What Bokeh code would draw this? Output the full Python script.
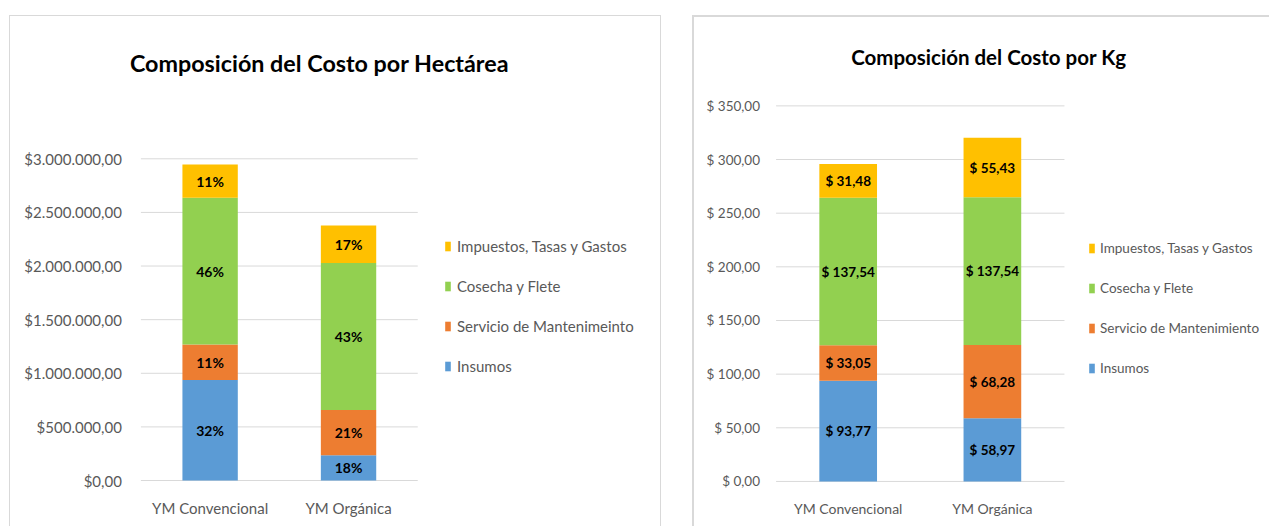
from bokeh.plotting import figure
from bokeh.models import (ColumnDataSource, LabelSet, Legend, LegendItem, Label,
                          FixedTicker, Range1d)
from bokeh.core.properties import value
from bokeh.layouts import row, column, Spacer
from bokeh.embed import file_html
from bokeh.resources import INLINE

categories = ["YM Convencional", "YM Orgánica"]
series_left = ["Insumos", "Servicio de Mantenimeinto", "Cosecha y Flete", "Impuestos, Tasas y Gastos"]
series_right = ["Insumos", "Servicio de Mantenimiento", "Cosecha y Flete", "Impuestos, Tasas y Gastos"]
colors = ["#5B9BD5", "#ED7D31", "#92D050", "#FFC000"]

# Cost per hectare ($)
ha_insumos = [937000, 236000]
ha_mantenimiento = [332000, 422000]
ha_cosecha = [1368000, 1370000]
ha_impuestos = [310000, 351000]
ha_pct_insumos = ["32%", "18%"]
ha_pct_mantenimiento = ["11%", "21%"]
ha_pct_cosecha = ["46%", "43%"]
ha_pct_impuestos = ["11%", "17%"]
ha_ticks = [0, 500000, 1000000, 1500000, 2000000, 2500000, 3000000]

# Cost per kg ($)
kg_insumos = [93.77, 58.97]
kg_mantenimiento = [33.05, 68.28]
kg_cosecha = [137.54, 137.54]
kg_impuestos = [31.48, 55.43]
kg_ticks = [0, 50, 100, 150, 200, 250, 300, 350]

FONT = "Lato"
GRID = "#d9d9d9"
TXT = "#595959"


def fmt_left(v):
    s = f"{v:,.2f}"
    return "$" + s.replace(",", "X").replace(".", ",").replace("X", ".")


def fmt_right(v):
    return "$ " + f"{v:.2f}".replace(".", ",")


def make_chart(title, values, labels, series, ticks, fmt, width, height, border_css,
               canvas_w, canvas_h, plot_left, zero_from_bottom, cat_px, axis_px,
               tick_gap, title_pos, legend_pos, title_size, tick_size, cat_size,
               leg_size, lab_size, leg_standoff):
    n = len(categories)
    xs = [i + 0.5 for i in range(n)]
    keys = ["s0", "s1", "s2", "s3"]
    data = {"x": xs}
    for k, v in zip(keys, values):
        data[k] = v
    src = ColumnDataSource(data)

    below = 12                               # frame extends this many px under the zero line
    mb_bottom = zero_from_bottom - below
    frame_h = canvas_h - mb_bottom
    unit_px = axis_px / ticks[-1]           # pixels per data unit (y)
    x_start = -plot_left / cat_px
    x_end = (canvas_w - plot_left) / cat_px
    y_start = -below / unit_px
    y_end = (frame_h - below) / unit_px

    p = figure(x_range=Range1d(x_start, x_end), y_range=Range1d(y_start, y_end),
               width=width, height=height, output_backend="svg", toolbar_location=None,
               min_border_left=0, min_border_right=0,
               min_border_top=0, min_border_bottom=mb_bottom,
               background_fill_color="white", border_fill_color="white",
               styles=border_css)
    p.outline_line_color = None
    p.xgrid.grid_line_color = None
    p.ygrid.grid_line_color = None
    p.yaxis.visible = False

    # gridlines only over the plot area
    gsrc = ColumnDataSource(dict(y=ticks, x0=[0] * len(ticks), x1=[n] * len(ticks),
                                 lx=[-tick_gap / cat_px] * len(ticks),
                                 t=[fmt(t) for t in ticks]))
    p.segment(x0="x0", x1="x1", y0="y", y1="y", source=gsrc, line_color=GRID, line_width=1)
    p.text(x="lx", y="y", text="t", source=gsrc, text_align="right", text_baseline="middle",
           text_font=value(FONT), text_font_size=value(tick_size), text_color=TXT)

    rs = p.vbar_stack(keys, x="x", width=0.4, color=colors, line_color=None, source=src)

    # data labels at segment middles
    lx, ly, lt = [], [], []
    for i in range(n):
        bottom = 0
        for j in range(4):
            v = values[j][i]
            lx.append(xs[i])
            ly.append(bottom + v / 2)
            lt.append(labels[j][i])
            bottom += v
    lsrc = ColumnDataSource(dict(x=lx, y=ly, t=lt))
    p.add_layout(LabelSet(x="x", y="y", text="t", source=lsrc, text_align="center",
                          text_baseline="middle", text_font=value(FONT),
                          text_font_style="bold", text_font_size=value(lab_size),
                          text_color="black"))

    # category axis
    p.xaxis.ticker = FixedTicker(ticks=xs)
    p.xaxis.major_label_overrides = {x: c for x, c in zip(xs, categories)}
    p.xaxis.axis_line_color = None
    p.xaxis.major_tick_line_color = None
    p.xaxis.minor_tick_line_color = None
    p.xaxis.major_label_text_font = FONT
    p.xaxis.major_label_text_font_size = cat_size
    p.xaxis.major_label_text_color = TXT
    p.xaxis.major_label_standoff = 12 - below

    # legend (reverse order)
    items = [LegendItem(label=series[j], renderers=[rs[j]]) for j in [3, 2, 1, 0]]
    leg = Legend(items=items, location=(legend_pos[0], legend_pos[1] + below),
                 orientation="vertical",
                 glyph_width=7, glyph_height=12, label_height=20, spacing=20,
                 label_standoff=leg_standoff, padding=0, margin=0, border_line_color=None,
                 background_fill_alpha=0, label_text_font=FONT,
                 label_text_font_size=leg_size, label_text_color=TXT)
    p.add_layout(leg, "center")

    # title (position given in pixels from plot-area left / zero line)
    p.add_layout(Label(x=title_pos[0] / cat_px, y=title_pos[1] / unit_px, text=title,
                       text_align="center", text_baseline="middle", text_font=FONT,
                       text_font_style="bold", text_font_size=title_size,
                       text_color="black"))
    return p


left_labels = [ha_pct_insumos, ha_pct_mantenimiento, ha_pct_cosecha, ha_pct_impuestos]
right_vals = [kg_insumos, kg_mantenimiento, kg_cosecha, kg_impuestos]
right_labels = [[fmt_right(v) for v in s] for s in right_vals]

# left chart: outer box x 9..660, top 15 ; canvas x 10..659, y 16..526
p1 = make_chart("Composición del Costo por Hectárea",
                [ha_insumos, ha_mantenimiento, ha_cosecha, ha_impuestos], left_labels,
                series_left, ha_ticks, fmt_left, 652, 511,
                {"border-top": "1px solid #d9d9d9", "border-left": "1px solid #d9d9d9",
                 "border-right": "1px solid #d9d9d9", "box-sizing": "border-box"},
                650, 510, 130, 45, 138, 322.4,
                19, (178, 418.5), (434, 104.5),
                "23.3px", "15px", "15px", "15px", "14px", 6)
# right chart: outer box x 692..1269, top 15 ; canvas x 694.., y 17..526
p2 = make_chart("Composición del Costo por Kg", right_vals, right_labels,
                series_right, kg_ticks, fmt_right, 577, 511,
                {"border-top": "2px solid #d9d9d9", "border-left": "2px solid #d9d9d9",
                 "box-sizing": "border-box"},
                575, 509, 81.3, 47, 143.7, 374,
                16, (212, 423), (394, 103),
                "20.5px", "13.5px", "14px", "13.5px", "13.5px", 5)

layout = column(Spacer(height=15),
                row(Spacer(width=9), p1, Spacer(width=31), p2))
open("out.html", "w").write(file_html(layout, INLINE))
